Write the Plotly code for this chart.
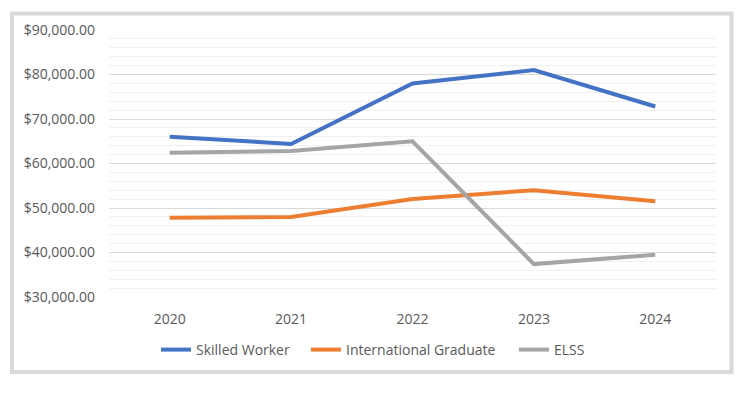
import plotly.graph_objects as go

years = ["2020", "2021", "2022", "2023", "2024"]
skilled_worker = [66000, 64400, 78000, 81000, 72800]
international_graduate = [47800, 48000, 52000, 54000, 51500]
elss = [62400, 62800, 65000, 37400, 39500]

series = [
    ("Skilled Worker", skilled_worker, "#4472C4", "legend", 156),
    ("International Graduate", international_graduate, "#ED7D31", "legend2", 306),
    ("ELSS", elss, "#A5A5A5", "legend3", 514),
]

L, R, T, B = 109, 28, 30, 97
W, H = 744, 394
pw, ph = W - L - R, H - T - B

def px_to_paper_x(px):
    return (px - L) / pw

def px_to_paper_y(py):
    return (H - B - py) / ph

fig = go.Figure()
legend_cfg = {}
for name, vals, color, leg, lx in series:
    fig.add_trace(go.Scatter(
        x=years, y=vals, name=name, mode="lines",
        line=dict(color=color, width=4), legend=leg,
    ))
    legend_cfg[leg] = dict(orientation="h", x=px_to_paper_x(lx), xanchor="left",
                           y=px_to_paper_y(334), yanchor="top", bgcolor="rgba(0,0,0,0)",
                           font=dict(size=14, color="#595959"), itemwidth=30)

fig.update_layout(
    width=W, height=H,
    margin=dict(l=L, r=R, t=T, b=B),
    paper_bgcolor="white", plot_bgcolor="white",
    font=dict(family="Open Sans", size=14, color="#595959"),
    showlegend=True,
    xaxis=dict(type="category", range=[-0.5, 4.5], showgrid=False, zeroline=False,
               showline=False, ticks="", ticklabelstandoff=12,
               tickfont=dict(size=14, color="#595959")),
    yaxis=dict(range=[30000, 90000], dtick=10000, tick0=0, tickprefix="$", tickformat=",.2f",
               showgrid=True, gridcolor="#d9d9d9", gridwidth=1, zeroline=False,
               showline=False, ticks="", ticklabelstandoff=13,
               tickfont=dict(size=14, color="#595959"),
               minor=dict(dtick=2000, showgrid=True, gridcolor="#f0f0f0", gridwidth=1)),
    **legend_cfg,
)

fig.add_shape(type="rect", xref="paper", yref="paper",
              x0=px_to_paper_x(12), x1=px_to_paper_x(731.5),
              y0=px_to_paper_y(372), y1=px_to_paper_y(13.5),
              line=dict(color="#d9d9d9", width=4), fillcolor="rgba(0,0,0,0)", layer="below")

fig.write_html("out.html", config={"displayModeBar": False},
               post_script="document.body.style.margin='0';document.body.style.overflow='hidden';")
